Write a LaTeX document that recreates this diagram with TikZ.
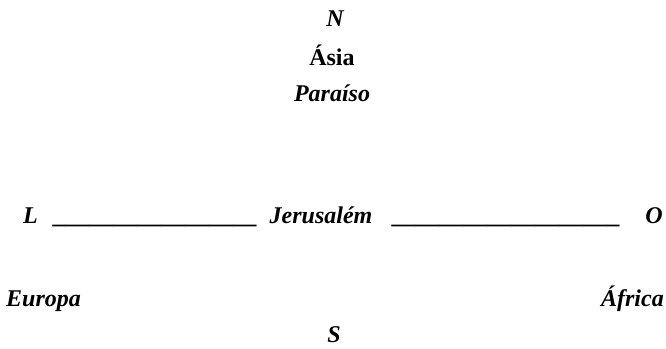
\documentclass[tikz,border=0pt]{standalone}
\usepackage{fontspec}
\setmainfont{Liberation Serif}
\usepackage{tikz}
\usetikzlibrary{positioning}
\tikzset{
	placenode/.style={
			inner sep=0pt,
			anchor=base,
			font=\fontsize{24}{28}\selectfont\bfseries\itshape
		},
	uprightnode/.style={
			placenode,
			font=\fontsize{24}{28}\selectfont\bfseries
		},
	linenode/.style={
			placenode
		}
}

\begin{document}
\begin{tikzpicture}[x=1pt, y=-1pt]
\useasboundingbox (0,0) rectangle (666,348);

\node[placenode] (N) at (335,26) { N };
\node[uprightnode] (asia) at (332,65) { Ásia };
\node[placenode] (paraiso) at (332,101) { Paraíso };

\node[placenode, anchor=base west] (L) at (23,223) { L };
\node[linenode] (lineL) at (156,223) {\_\_\_\_\_\_\_\_\_\_\_\_\_\_\_\_\_};
\node[placenode] (jerusalem) at (321,223) { Jerusalém };
\node[linenode] (lineO) at (507,223) {\_\_\_\_\_\_\_\_\_\_\_\_\_\_\_\_\_\_\_};
\node[placenode, anchor=base east] (O) at (663,223) { O };

\node[placenode, anchor=base west] (europa) at (6,306) { Europa };
\node[placenode, anchor=base east] (africa) at (664,306) { África };
\node[placenode] (S) at (334,342) { S };
\end{tikzpicture}
\end{document}
